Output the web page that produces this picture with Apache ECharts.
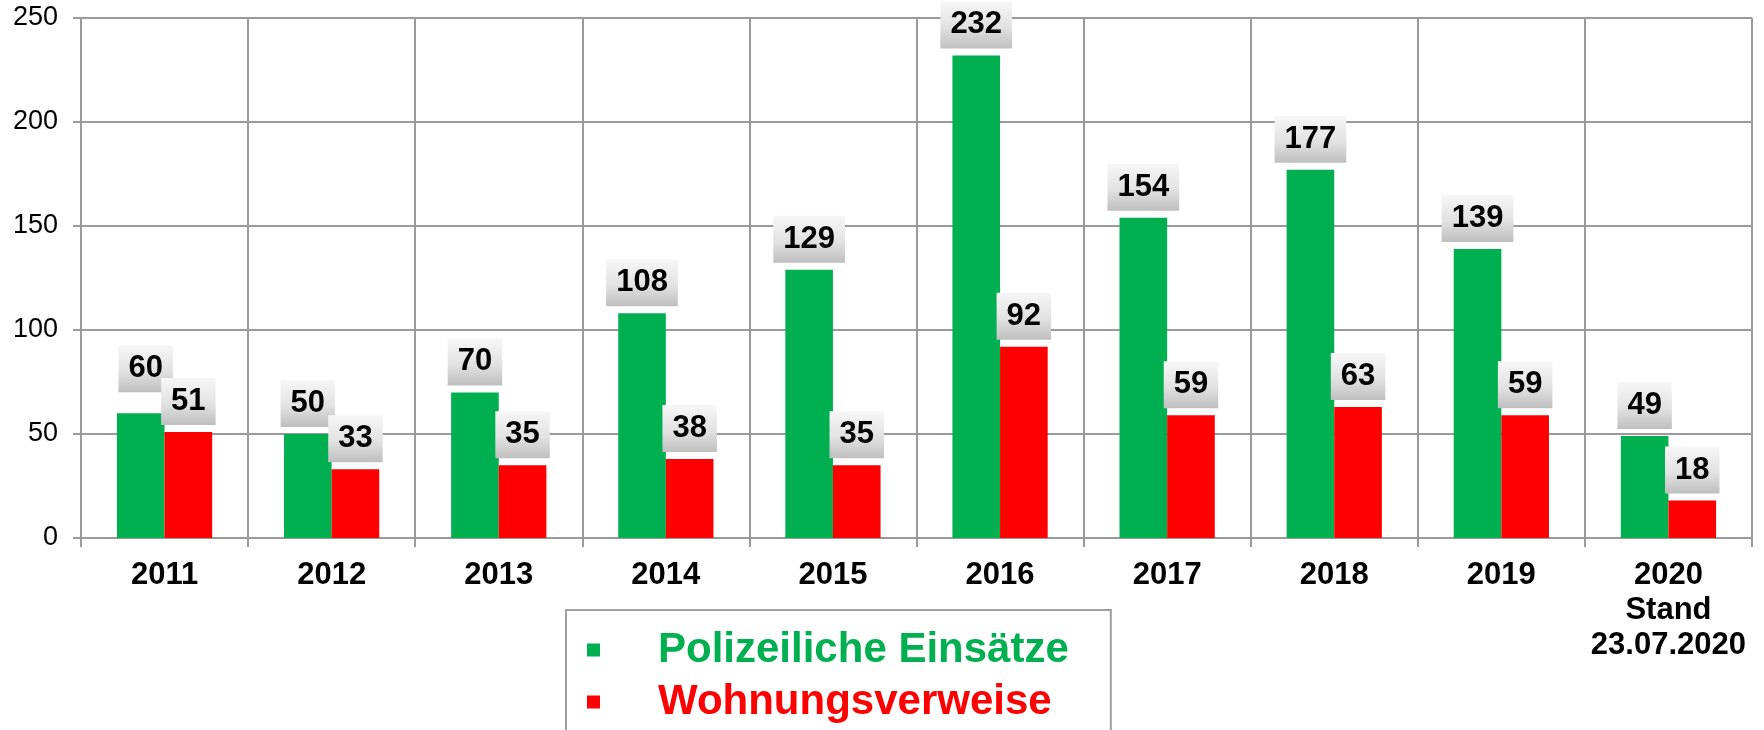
<!DOCTYPE html>
<html>
<head>
<meta charset="utf-8">
<style>
  html, body { margin: 0; padding: 0; background: #fff; }
  #chart { width: 1764px; height: 730px; }
</style>
<script src="https://cdn.jsdelivr.net/npm/echarts@6/dist/echarts.min.js"></script>
</head>
<body>
<div id="chart"></div>
<script>
// Jahre (Kategorien) und Werte je Reihe
const categories = ['2011', '2012', '2013', '2014', '2015', '2016', '2017', '2018', '2019', '2020\nStand\n23.07.2020'];
const einsaetze = [60, 50, 70, 108, 129, 232, 154, 177, 139, 49];
const verweise = [51, 33, 35, 38, 35, 92, 59, 63, 59, 18];
const yTicks = [0, 50, 100, 150, 200, 250];

const seriesNames = ['Polizeiliche Einsätze', 'Wohnungsverweise'];
const GREEN = '#00B050';
const RED = '#FF0000';
const GRID = '#9a9a9a';
const FONT = '"Liberation Sans", Arial, sans-serif';

const labelBox = {
  show: true,
  position: 'top',
  distance: 7,
  color: '#000',
  fontFamily: FONT,
  fontWeight: 'bold',
  fontSize: 31,
  lineHeight: 31,
  padding: [8, 10],
  backgroundColor: {
    type: 'linear', x: 0, y: 0, x2: 0, y2: 1,
    colorStops: [
      { offset: 0, color: '#f7f7f7' },
      { offset: 0.55, color: '#e2e2e2' },
      { offset: 1, color: '#bfbfbf' }
    ]
  }
};

// the 2011 green label sits higher so it clears its neighbour
const einsaetzeData = einsaetze.map((v, i) =>
  i === 0 ? { value: v, label: { offset: [5, -14] } } : v
);

const chart = echarts.init(document.getElementById('chart'));
chart.setOption({
  animation: false,
  backgroundColor: '#fff',
  grid: { left: 81, right: 12, top: 18, bottom: 192, containLabel: false },
  legend: {
    orient: 'vertical',
    left: 566,
    top: 610,
    height: 110,
    data: [
      { name: seriesNames[0], textStyle: { color: GREEN } },
      { name: seriesNames[1], textStyle: { color: RED } }
    ],
    icon: 'rect',
    itemWidth: 13,
    itemHeight: 13,
    itemGap: 6,
    padding: [17, 42, 40, 21],
    borderColor: '#a0a0a0',
    borderWidth: 2,
    textStyle: {
      fontFamily: FONT,
      fontWeight: 'bold',
      fontSize: 42,
      lineHeight: 46,
      padding: [0, 0, 0, 53]
    }
  },
  xAxis: {
    type: 'category',
    data: categories,
    axisLine: { lineStyle: { color: GRID, width: 2 } },
    axisTick: { show: true, length: 9, lineStyle: { color: GRID, width: 2 } },
    splitLine: { show: true, lineStyle: { color: GRID, width: 2 } },
    axisLabel: {
      margin: 20,
      color: '#000',
      fontFamily: FONT,
      fontWeight: 'bold',
      fontSize: 31,
      lineHeight: 35,
      interval: 0
    }
  },
  yAxis: {
    type: 'value',
    min: yTicks[0],
    max: yTicks[yTicks.length - 1],
    interval: yTicks[1] - yTicks[0],
    axisLine: { show: true, lineStyle: { color: GRID, width: 2 } },
    axisTick: { show: true, length: 8, lineStyle: { color: GRID, width: 2 } },
    splitLine: { show: true, lineStyle: { color: GRID, width: 2 } },
    axisLabel: {
      margin: 23,
      color: '#000',
      fontFamily: FONT,
      fontSize: 27
    }
  },
  series: [
    {
      name: seriesNames[0],
      type: 'bar',
      data: einsaetzeData,
      itemStyle: { color: GREEN },
      barGap: '0%',
      barCategoryGap: '43%',
      label: labelBox,
      z: 2
    },
    {
      name: seriesNames[1],
      type: 'bar',
      data: verweise,
      itemStyle: { color: RED },
      barGap: '0%',
      barCategoryGap: '43%',
      label: labelBox,
      z: 3
    }
  ]
});
</script>
</body>
</html>
